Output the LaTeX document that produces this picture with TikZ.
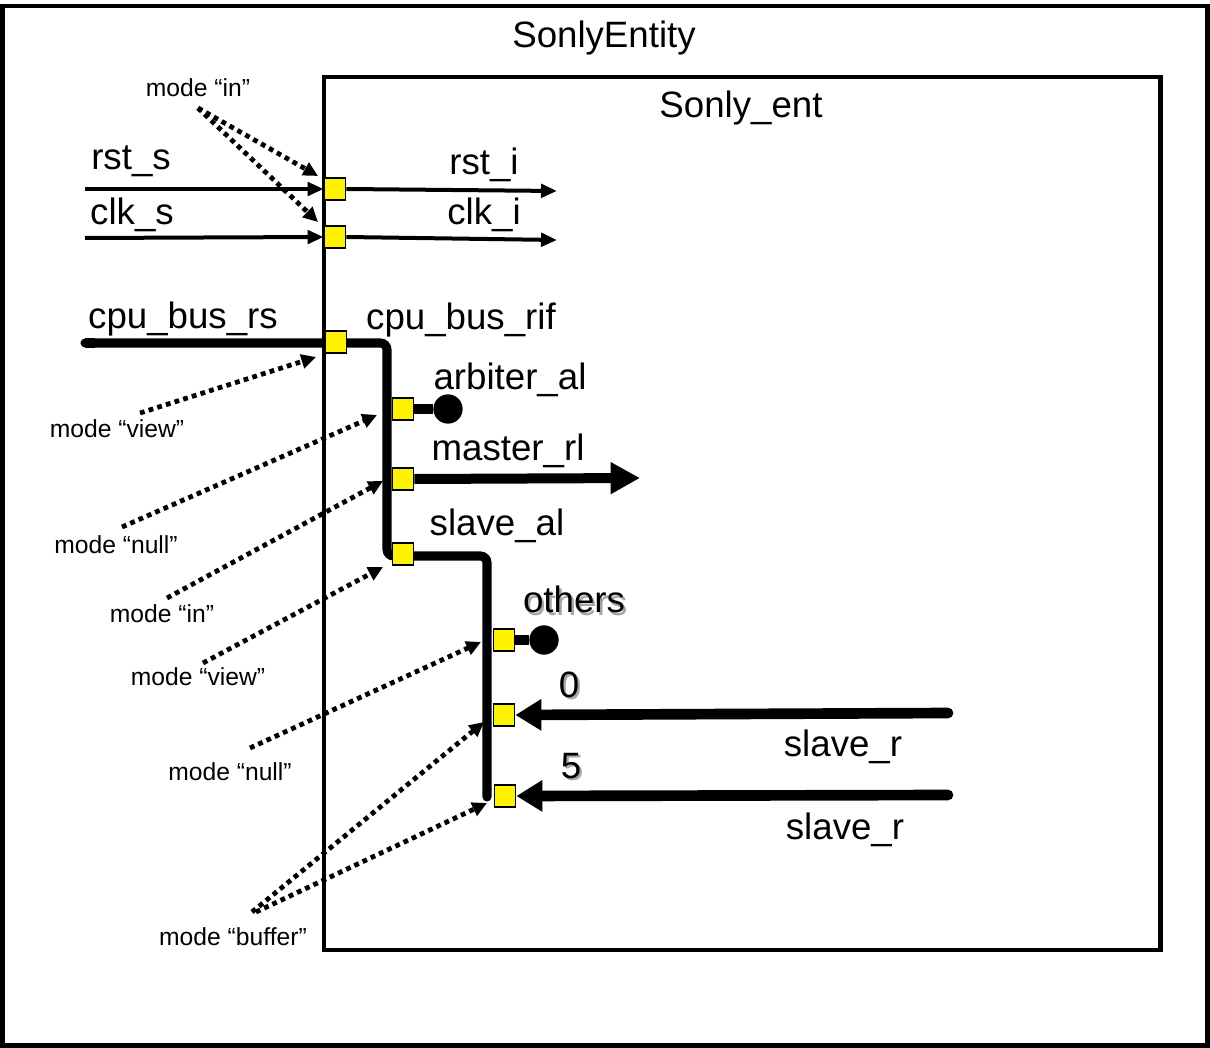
\documentclass[tikz,border=0pt]{standalone}
\usepackage{fontspec}
\setmainfont{Liberation Sans}
\usetikzlibrary{arrows.meta}
\newcommand{\shadowed}[1]{\rlap{\kern1.8pt\raisebox{-1.8pt}{\textcolor{black!35}{#1}}}#1}
\begin{document}
\begin{tikzpicture}[x=0.75pt,y=-0.75pt,
  big/.style={font=\fontsize{27.5}{30}\selectfont, inner sep=0pt},
  small/.style={font=\fontsize{18.5}{20}\selectfont, inner sep=0pt},
  port/.style={draw=black, line width=1.1pt, fill=yellow, minimum width=16pt, minimum height=16.8pt, inner sep=0pt},
  sig/.style={line width=3pt, -{Triangle[length=12pt,width=10pt]}},
  bus/.style={line width=6.8pt},
  note/.style={line width=3.6pt, dash pattern=on 3.6pt off 3.2pt, -{Triangle[length=11pt,width=10.5pt]}},
  enddot/.style={circle, fill=black, minimum size=22pt, inner sep=0pt},
  frame/.style={draw=black, line width=3.4pt},
]
\useasboundingbox (0,0) rectangle (1210,1048);
\fill[white] (0,0) rectangle (1210,1048);

% frames
\draw[frame] (2.5,6) rectangle (1207.5,1045.5);
\draw[frame, line width=3.7pt] (324,77) rectangle (1160.5,950);

% titles
\node[big] (title) at (604,38) {SonlyEntity};
\node[big] (inner) at (741,108) {Sonly\_ent};

% free-end coordinates
\coordinate (rstin) at (85,189);
\coordinate (rstout) at (557,191);
\coordinate (clkin) at (85,238);
\coordinate (clkout) at (557,240);
\coordinate (busin) at (85,343);
\coordinate (bc1) at (387,343);
\coordinate (bc2) at (387,556);
\coordinate (bc3) at (487,556);
\coordinate (busend) at (487,797);
\coordinate (masend) at (640,478);
\coordinate (s0in) at (948,713);
\coordinate (s5in) at (948,795);

% bus (behind ports)
\draw[bus, rounded corners=5pt, line cap=round] (busin) -- (bc1) -- (bc2) -- (bc3) -- (busend);
\draw[bus] (busin) -- ++(10,0);

% ports
\node[port] (prst) at (335,189) {};
\node[port] (pclk) at (335,237) {};
\node[port] (pcpu) at (336,342) {};
\node[port] (parb) at (403,409) {};
\node[port] (pmas) at (403,479) {};
\node[port] (psla) at (403,554) {};
\node[port] (poth) at (504,640) {};
\node[port] (p0) at (504,715) {};
\node[port] (p5) at (505,796) {};

% end dots
\node[enddot] (arbdot) at (448,409) {};
\node[enddot] (othdot) at (544,640) {};

% signals
\draw[sig] (rstin) -- (prst.west);
\draw[sig] (prst.east) -- (rstout);
\draw[sig] (clkin) -- (pclk.west);
\draw[sig] (pclk.east) -- (clkout);
\draw[bus] (parb.east) -- (arbdot);
\draw[bus] (poth.east) -- (othdot);
\draw[line width=7.5pt, -{Triangle[length=22pt,width=22.5pt]}] (pmas.east) -- (masend);
\draw[line width=8pt, line cap=round, -{Triangle[length=19.5pt,width=22.5pt]}] (s0in) -- (p0.east);
\draw[line width=8pt, line cap=round, -{Triangle[length=19.5pt,width=22.5pt]}] (s5in) -- (p5.east);

% signal labels
\node[big] (lrsts) at (131,161) {rst\_s};
\node[big] (lclks) at (132,215) {clk\_s};
\node[big] (lrsti) at (484,165) {rst\_i};
\node[big] (lclki) at (484,215) {clk\_i};
\node[big] (lcpurs) at (183,319) {cpu\_bus\_rs};
\node[big] (lcpurif) at (461,320) {cpu\_bus\_rif};
\node[big] (larb) at (510,380) {arbiter\_al};
\node[big] (lmas) at (508,451) {master\_rl};
\node[big] (lsla) at (497,526) {slave\_al};
\node[big] (loth) at (574,601) {\shadowed{others}};
\node[big] (lzero) at (569,686) {\shadowed{0}};
\node[big] (lfive) at (571,767) {\shadowed{5}};
\node[big] (lsr1) at (843,747) {slave\_r};
\node[big] (lsr2) at (845,830) {slave\_r};

% mode labels
\node[small] (m1) at (198,88) {mode “in”};
\node[small] (m2) at (117,429) {mode “view”};
\node[small] (m3) at (116,545) {mode “null”};
\node[small] (m4) at (162,614) {mode “in”};
\node[small] (m5) at (198,677) {mode “view”};
\node[small] (m6) at (230,772) {mode “null”};
\node[small] (m7) at (233,937) {mode “buffer”};

% note start coordinates
\coordinate (n1) at (198,108);
\coordinate (n2) at (140,413);
\coordinate (n3) at (122,527);
\coordinate (n4) at (167,598);
\coordinate (n5) at (203,663);
\coordinate (n6) at (250,748);
\coordinate (n7a) at (252,912);
\coordinate (n7b) at (256,912);
% note end coordinates
\coordinate (e1a) at (318,176);
\coordinate (e1b) at (318,222);
\coordinate (e2) at (316,357);
\coordinate (e3) at (377,415);
\coordinate (e4) at (383,481);
\coordinate (e5) at (383,567);
\coordinate (e6) at (481,642);
\coordinate (e7a) at (484,722);
\coordinate (e7b) at (487,803);

\draw[note] (n1) -- (e1a);
\draw[note] (n1) -- (e1b);
\draw[note] (n2) -- (e2);
\draw[note] (n3) -- (e3);
\draw[note] (n4) -- (e4);
\draw[note] (n5) -- (e5);
\draw[note] (n6) -- (e6);
\draw[note] (n7a) -- (e7a);
\draw[note] (n7b) -- (e7b);
\end{tikzpicture}
\end{document}
